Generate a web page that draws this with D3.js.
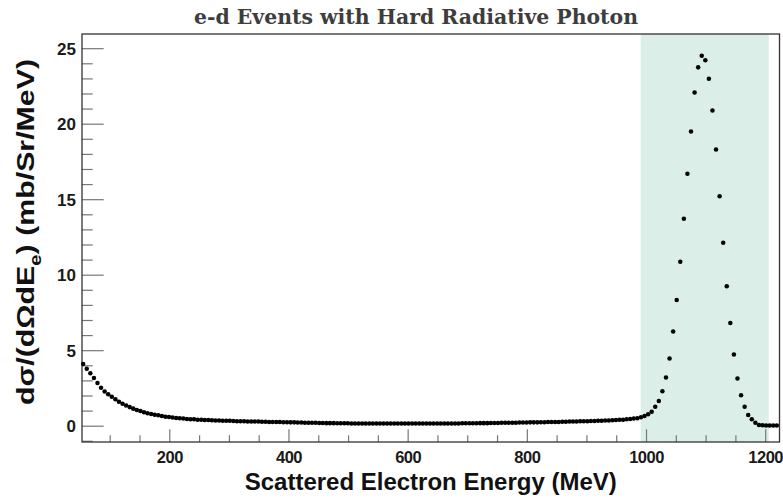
<!DOCTYPE html>
<html>
<head>
<meta charset="utf-8">
<script src="https://cdnjs.cloudflare.com/ajax/libs/d3/7.8.5/d3.min.js"></script>
<style>
  html, body { margin: 0; padding: 0; background: #ffffff; }
  svg { display: block; }
</style>
</head>
<body>
<svg id="chart" width="783" height="501"></svg>
<script>
// ---------------- data ----------------
const chartTitle = "e-d Events with Hard Radiative Photon";
const xTitle = "Scattered Electron Energy (MeV)";

// bin centres (MeV)
const energies = [
  55.5, 61.5, 67.5, 73.5, 79.5, 85.5, 91.5, 97.5, 103.5, 109.5,
  115.5, 121.5, 127.5, 133.5, 139.5, 145.5, 151.5, 157.5, 163.5, 169.5,
  175.5, 181.5, 187.5, 193.5, 199.5, 205.5, 211.5, 217.5, 223.5, 229.5,
  235.5, 241.5, 247.5, 253.5, 259.5, 265.5, 271.5, 277.5, 283.5, 289.5,
  295.5, 301.5, 307.5, 313.5, 319.5, 325.5, 331.5, 337.5, 343.5, 349.5,
  355.5, 361.5, 367.5, 373.5, 379.5, 385.5, 391.5, 397.5, 403.5, 409.5,
  415.5, 421.5, 427.5, 433.5, 439.5, 445.5, 451.5, 457.5, 463.5, 469.5,
  475.5, 481.5, 487.5, 493.5, 499.5, 505.5, 511.5, 517.5, 523.5, 529.5,
  535.5, 541.5, 547.5, 553.5, 559.5, 565.5, 571.5, 577.5, 583.5, 589.5,
  595.5, 601.5, 607.5, 613.5, 619.5, 625.5, 631.5, 637.5, 643.5, 649.5,
  655.5, 661.5, 667.5, 673.5, 679.5, 685.5, 691.5, 697.5, 703.5, 709.5,
  715.5, 721.5, 727.5, 733.5, 739.5, 745.5, 751.5, 757.5, 763.5, 769.5,
  775.5, 781.5, 787.5, 793.5, 799.5, 805.5, 811.5, 817.5, 823.5, 829.5,
  835.5, 841.5, 847.5, 853.5, 859.5, 865.5, 871.5, 877.5, 883.5, 889.5,
  895.5, 901.5, 907.5, 913.5, 919.5, 925.5, 931.5, 937.5, 943.5, 949.5,
  955.5, 961.5, 967.5, 973.5, 979.5, 985.5, 991.5, 997.5, 1003.5, 1009.5,
  1015.5, 1021.5, 1027.5, 1033.5, 1039.5, 1045.5, 1051.5, 1057.5, 1063.5, 1069.5,
  1075.5, 1081.5, 1087.5, 1093.5, 1099.5, 1105.5, 1111.5, 1117.5, 1123.5, 1129.5,
  1135.5, 1141.5, 1147.5, 1153.5, 1159.5, 1165.5, 1171.5, 1177.5, 1183.5, 1189.5,
  1195.5, 1201.5, 1207.5, 1213.5, 1219.5
];

// differential cross section (mb/Sr/MeV)
const crossSection = [
  4.08, 3.77, 3.48, 3.16, 2.83, 2.52, 2.27, 2.08, 1.92, 1.75,
  1.59, 1.45, 1.33, 1.23, 1.13, 1.04, 0.97, 0.89, 0.82, 0.77,
  0.73, 0.69, 0.64, 0.60, 0.57, 0.54, 0.51, 0.49, 0.47, 0.45,
  0.43, 0.42, 0.40, 0.39, 0.38, 0.37, 0.36, 0.35, 0.34, 0.33,
  0.33, 0.32, 0.31, 0.30, 0.30, 0.29, 0.28, 0.28, 0.27, 0.27,
  0.26, 0.26, 0.25, 0.25, 0.24, 0.24, 0.23, 0.23, 0.22, 0.22,
  0.21, 0.21, 0.20, 0.20, 0.19, 0.19, 0.18, 0.18, 0.17, 0.17,
  0.17, 0.16, 0.16, 0.16, 0.16, 0.15, 0.15, 0.15, 0.15, 0.15,
  0.15, 0.15, 0.15, 0.15, 0.15, 0.15, 0.15, 0.15, 0.15, 0.15,
  0.15, 0.15, 0.15, 0.15, 0.15, 0.15, 0.15, 0.15, 0.15, 0.15,
  0.15, 0.15, 0.15, 0.15, 0.15, 0.15, 0.16, 0.16, 0.16, 0.16,
  0.16, 0.17, 0.17, 0.17, 0.18, 0.18, 0.18, 0.19, 0.19, 0.20,
  0.20, 0.20, 0.21, 0.21, 0.21, 0.22, 0.22, 0.22, 0.23, 0.23,
  0.24, 0.24, 0.25, 0.25, 0.26, 0.26, 0.27, 0.27, 0.28, 0.29,
  0.29, 0.30, 0.31, 0.31, 0.32, 0.33, 0.34, 0.35, 0.36, 0.37,
  0.39, 0.40, 0.42, 0.44, 0.47, 0.50, 0.56, 0.64, 0.76, 0.93,
  1.26, 1.64, 2.28, 3.19, 4.45, 6.24, 8.33, 10.85, 13.70, 16.69,
  19.48, 22.07, 23.73, 24.50, 24.20, 22.97, 20.88, 18.29, 15.19, 12.11,
  9.23, 6.80, 4.71, 3.12, 2.02, 1.26, 0.71, 0.42, 0.20, 0.05,
  0.03, 0.02, 0.02, 0.02, 0.02
];

// highlighted (shaded) energy window (MeV)
const bandRange = [991, 1206];

// axis ticks
const xMajorTicks = [200, 400, 600, 800, 1000, 1200];
const xMinorTicks = [100, 150, 250, 300, 350, 450, 500, 550, 650, 700, 750, 850, 900, 950, 1050, 1100, 1150];
const yMajorTicks = [0, 5, 10, 15, 20, 25];
const yMinorTicks = [-1, 1, 2, 3, 4, 6, 7, 8, 9, 11, 12, 13, 14, 16, 17, 18, 19, 21, 22, 23, 24];

const xDomain = [53.5, 1224];
const yDomain = [-1.08, 25.94];

// ---------------- layout ----------------
const svg = d3.select("#chart");
const L = 82, R = 779.5, T = 34, B = 442;

const x = d3.scaleLinear().domain(xDomain).range([L, R]);
const y = d3.scaleLinear().domain(yDomain).range([B, T]);

const tickColor = "#777777";
const frameColor = "#333333";
const labelFont = "'Liberation Sans', Arial, Helvetica, sans-serif";

// shaded band
svg.append("rect")
  .attr("x", x(bandRange[0]))
  .attr("y", T)
  .attr("width", x(bandRange[1]) - x(bandRange[0]))
  .attr("height", B - T)
  .attr("fill", "#dceee8");

// axes (ticks pointing inward, ROOT style)
const gx = svg.append("g").attr("transform", `translate(0,${B})`);
gx.call(d3.axisBottom(x).tickValues(xMinorTicks).tickSize(-6.7).tickFormat(""));
const gxMaj = svg.append("g").attr("transform", `translate(0,${B})`);
gxMaj.call(d3.axisBottom(x).tickValues(xMajorTicks).tickSize(-12.7).tickPadding(5).tickFormat(d3.format("d")));

const gy = svg.append("g").attr("transform", `translate(${L},0)`);
gy.call(d3.axisLeft(y).tickValues(yMinorTicks).tickSize(-10.7).tickFormat(""));
const gyMaj = svg.append("g").attr("transform", `translate(${L},0)`);
gyMaj.call(d3.axisLeft(y).tickValues(yMajorTicks).tickSize(-21.7).tickPadding(6).tickFormat(d3.format("d")));

[gx, gxMaj, gy, gyMaj].forEach(g => {
  g.select(".domain").remove();
  g.selectAll(".tick line").attr("stroke", tickColor).attr("stroke-width", 1.2);
  g.selectAll(".tick text")
    .attr("fill", "#1a1a1a")
    .style("font-family", labelFont)
    .style("font-weight", "bold")
    .style("font-size", "17px");
});
gxMaj.selectAll(".tick text")
  .attr("dy", "0.95em")
  .style("font-size", "16.5px")
  .style("letter-spacing", "-0.5px");
gyMaj.selectAll(".tick text").attr("dy", "0.36em");

// frame
svg.append("rect")
  .attr("x", L).attr("y", T)
  .attr("width", R - L).attr("height", B - T)
  .attr("fill", "none")
  .attr("stroke", frameColor)
  .attr("stroke-width", 1.3);

// data markers
const pts = energies.map((e, i) => ({ e, v: crossSection[i] }));
svg.append("g")
  .selectAll("path")
  .data(pts)
  .join("path")
  .attr("transform", d => `translate(${x(d.e)},${y(d.v)})`)
  .attr("d", d3.symbol().type(d3.symbolCircle).size(16))
  .attr("fill", "#000000");

// title
svg.append("text")
  .attr("x", 416)
  .attr("y", 24)
  .attr("text-anchor", "middle")
  .attr("fill", "#3d3d3d")
  .attr("textLength", 444)
  .attr("lengthAdjust", "spacingAndGlyphs")
  .style("font-family", "'DejaVu Serif', serif")
  .style("font-weight", "bold")
  .style("font-size", "20px")
  .text(chartTitle);

// x-axis title
svg.append("text")
  .attr("x", (L + R) / 2)
  .attr("y", 490)
  .attr("text-anchor", "middle")
  .attr("fill", "#111111")
  .style("font-family", labelFont)
  .style("font-weight", "bold")
  .style("font-size", "24px")
  .text(xTitle);

// y-axis title with subscript
const yt = svg.append("text")
  .attr("transform", `translate(34,232) rotate(-90)`)
  .attr("text-anchor", "middle")
  .attr("textLength", 346)
  .attr("lengthAdjust", "spacingAndGlyphs")
  .attr("fill", "#111111")
  .style("font-family", labelFont)
  .style("font-weight", "bold")
  .style("font-size", "24px");
yt.append("tspan").text("dσ/(dΩdE");
yt.append("tspan").attr("dy", 7).style("font-size", "16px").text("e");
yt.append("tspan").attr("dy", -7).text(") (mb/Sr/MeV)");
</script>
</body>
</html>
